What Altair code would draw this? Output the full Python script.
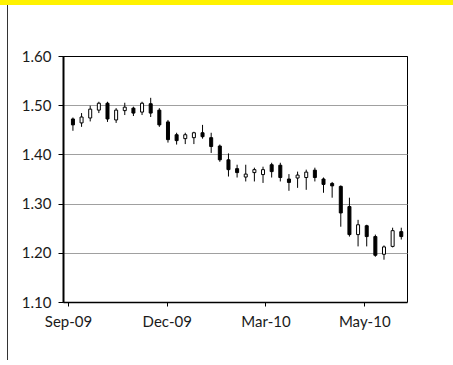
import altair as alt
import pandas as pd

# Weekly EUR/USD candles
weeks = [
    "2009-09-28", "2009-10-05", "2009-10-12", "2009-10-19", "2009-10-26",
    "2009-11-02", "2009-11-09", "2009-11-16", "2009-11-23", "2009-11-30",
    "2009-12-07", "2009-12-14", "2009-12-21", "2009-12-28", "2010-01-04",
    "2010-01-11", "2010-01-18", "2010-01-25", "2010-02-01", "2010-02-08",
    "2010-02-15", "2010-02-22", "2010-03-01", "2010-03-08", "2010-03-15",
    "2010-03-22", "2010-03-29", "2010-04-05", "2010-04-12", "2010-04-19",
    "2010-04-26", "2010-05-03", "2010-05-10", "2010-05-17", "2010-05-24",
    "2010-05-31", "2010-06-07", "2010-06-14", "2010-06-21",
]
opens = [1.472, 1.464, 1.474, 1.490, 1.504, 1.470, 1.489, 1.494, 1.486, 1.503,
         1.490, 1.466, 1.440, 1.432, 1.434, 1.444, 1.434, 1.417, 1.389, 1.371,
         1.354, 1.363, 1.359, 1.379, 1.378, 1.350, 1.352, 1.353, 1.368, 1.350,
         1.341, 1.335, 1.294, 1.237, 1.255, 1.233, 1.197, 1.213, 1.243]
highs = [1.475, 1.484, 1.499, 1.507, 1.507, 1.494, 1.505, 1.497, 1.507, 1.515,
         1.494, 1.470, 1.444, 1.444, 1.446, 1.460, 1.444, 1.420, 1.402, 1.379,
         1.379, 1.373, 1.375, 1.383, 1.383, 1.360, 1.365, 1.369, 1.373, 1.353,
         1.344, 1.337, 1.312, 1.267, 1.257, 1.237, 1.215, 1.251, 1.251]
lows = [1.448, 1.456, 1.467, 1.484, 1.466, 1.464, 1.480, 1.478, 1.480, 1.476,
        1.456, 1.424, 1.420, 1.421, 1.421, 1.432, 1.403, 1.385, 1.355, 1.353,
        1.345, 1.345, 1.342, 1.353, 1.345, 1.326, 1.332, 1.328, 1.345, 1.322,
        1.312, 1.253, 1.233, 1.213, 1.213, 1.192, 1.186, 1.211, 1.227]
closes = [1.460, 1.476, 1.492, 1.504, 1.472, 1.490, 1.496, 1.484, 1.504, 1.484,
          1.460, 1.430, 1.428, 1.440, 1.444, 1.436, 1.416, 1.389, 1.369, 1.363,
          1.360, 1.369, 1.369, 1.365, 1.353, 1.343, 1.358, 1.364, 1.353, 1.339,
          1.336, 1.281, 1.237, 1.257, 1.233, 1.195, 1.212, 1.245, 1.233]

# Axis settings
x_start = (2009, 9, 24, 0)
x_end = (2010, 6, 21, 14)
x_tick_dates = [(2009, 9, 24), (2009, 12, 13), (2010, 3, 3), (2010, 5, 22)]
y_ticks = [1.10, 1.20, 1.30, 1.40, 1.50, 1.60]

FONT = "Lato"
FS = 15

df = pd.DataFrame({"week": weeks, "open": opens, "high": highs,
                   "low": lows, "close": closes})
one = pd.DataFrame({"k": [0]})

def dt(y, m, d, h=0):
    return alt.DateTime(year=y, month=m, date=d, hours=h, utc=True)

x_scale = alt.Scale(type="utc", domain=[dt(*x_start), dt(*x_end)])
y_scale = alt.Scale(domain=[1.10, 1.60], nice=False, zero=False)

x_axis = alt.Axis(
    values=[dt(*t) for t in x_tick_dates],
    labelExpr="utcFormat(datum.value, '%b-%y')",
    title=None, grid=False, tickSize=4, tickColor="black", domainColor="black",
    domainWidth=1.5, labelFont=FONT, labelFontSize=FS, labelColor="#1a1a1a",
    labelPadding=8, labelFlush=False, labelOverlap=False,
)
y_axis = alt.Axis(
    values=y_ticks, format=".2f", title=None, tickSize=5, tickColor="black",
    domainColor="black", domainWidth=2, labelFont=FONT, labelFontSize=FS,
    labelColor="#1a1a1a", labelPadding=7,
    gridColor=alt.condition("datum.value > 1.55", alt.value("black"), alt.value("#a0a0a0")),
    gridWidth=1,
)

wicks = alt.Chart(df).mark_rule(color="black", strokeWidth=1, clip=True).encode(
    x=alt.X("week:T", scale=x_scale, axis=x_axis),
    y=alt.Y("low:Q", scale=y_scale, axis=y_axis),
    y2="high:Q",
)
bodies = alt.Chart(df).mark_bar(size=3, stroke="black", strokeWidth=1, clip=True).encode(
    x=alt.X("week:T", scale=x_scale),
    y=alt.Y("open:Q", scale=y_scale),
    y2="close:Q",
    fill=alt.condition("datum.open > datum.close", alt.value("black"), alt.value("white")),
)

band = alt.Chart(one).mark_rect(color="#FFF200").encode(
    x=alt.value(-63), x2=alt.value(390), y=alt.value(-56), y2=alt.value(-51)
)
vline = alt.Chart(one).mark_rect(color="#333333").encode(
    x=alt.value(-56), x2=alt.value(-55), y=alt.value(-51), y2=alt.value(304)
)

chart = alt.layer(band, vline, wicks, bodies).properties(
    width=344, height=246,
    padding={"left": 63, "top": 56, "right": 46, "bottom": 58},
    autosize=alt.AutoSizeParams(type="none"),
).configure_view(stroke="black", strokeWidth=1)

chart.save("out.html", embed_options={"renderer": "svg", "actions": False})
